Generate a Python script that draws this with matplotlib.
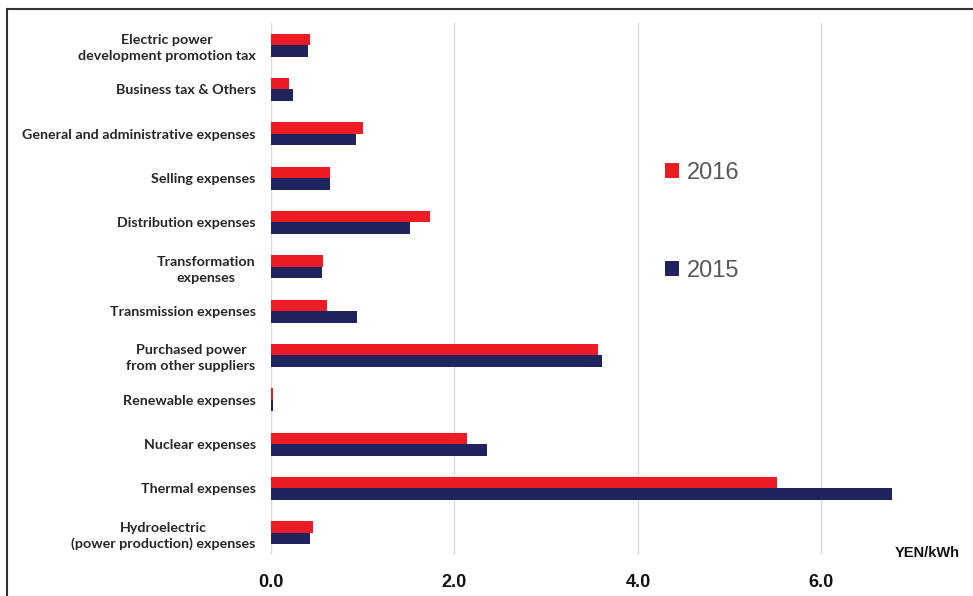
import matplotlib
matplotlib.use('Agg')
import matplotlib.pyplot as plt
from matplotlib.lines import Line2D
from matplotlib.patches import Patch
import numpy as np

categories = [
    'Electric power\ndevelopment promotion tax',
    'Business tax & Others',
    'General and administrative expenses',
    'Selling expenses',
    'Distribution expenses',
    'Transformation\nexpenses',
    'Transmission expenses',
    'Purchased power\nfrom other suppliers',
    'Renewable expenses',
    'Nuclear expenses',
    'Thermal expenses',
    'Hydroelectric\n(power production) expenses',
]
values_2016 = [0.43, 0.20, 1.00, 0.64, 1.73, 0.57, 0.61, 3.56, 0.02, 2.14, 5.52, 0.46]
values_2015 = [0.40, 0.24, 0.93, 0.64, 1.51, 0.56, 0.94, 3.61, 0.02, 2.36, 6.77, 0.43]
x_ticks = [0.0, 2.0, 4.0, 6.0]

RED = '#ED1C24'
NAVY = '#1F235E'

fig = plt.figure(figsize=(9.73, 5.96), dpi=100)
ax = fig.add_axes([271 / 973, 1 - 555 / 596, (959 - 271) / 973, (555 - 23) / 596])

y = np.arange(len(categories))
h = 0.26
ax.barh(y - h / 2, values_2016, height=h, color=RED, label='2016', zorder=3)
ax.barh(y + h / 2, values_2015, height=h, color=NAVY, label='2015', zorder=3)

ax.set_ylim(len(categories) - 0.5, -0.5)
ax.set_xlim(0, 7.5)

ax.set_yticks(y)
ax.set_yticklabels(categories, fontsize=10.3, fontweight='bold', family='Lato',
                   color='#262626', linespacing=1.4)
for lbl in ax.get_yticklabels():
    lbl.set_multialignment('center')
ax.tick_params(axis='y', length=0, pad=11)

ax.set_xticks(x_ticks)
ax.set_xticklabels(['%.1f' % t for t in x_ticks], fontsize=13, fontweight='bold',
                   family='Liberation Sans', color='#111111')
ax.tick_params(axis='x', length=0, pad=14)

ax.grid(axis='x', color='#D9D9D9', lw=1, zorder=0)
for s in ax.spines.values():
    s.set_visible(False)

fig.text(960 / 973, 1 - 553 / 596, 'YEN/kWh', ha='right', va='center',
         fontsize=10.5, fontweight='bold', family='Liberation Sans', color='#111111')

handles = [Patch(facecolor=RED, label='2016'), Patch(facecolor=NAVY, label='2015')]
leg = ax.legend(handles=handles, loc='upper left', bbox_to_anchor=(644 / 973, 1 - 141 / 596),
                bbox_transform=fig.transFigure, frameon=False,
                handlelength=0.6, handleheight=0.6, handletextpad=0.3, labelspacing=3.2,
                prop={'family': 'Liberation Sans', 'size': 17})
for t in leg.get_texts():
    t.set_color('#595959')

# frame lines at the top and left of the picture
fig.add_artist(Line2D([7 / 973, 1], [1 - 9 / 596, 1 - 9 / 596], transform=fig.transFigure,
                      color='#333333', lw=1.5))
fig.add_artist(Line2D([7 / 973, 7 / 973], [0, 1 - 9 / 596], transform=fig.transFigure,
                      color='#333333', lw=1.5))

fig.savefig('out.png', dpi=100)
